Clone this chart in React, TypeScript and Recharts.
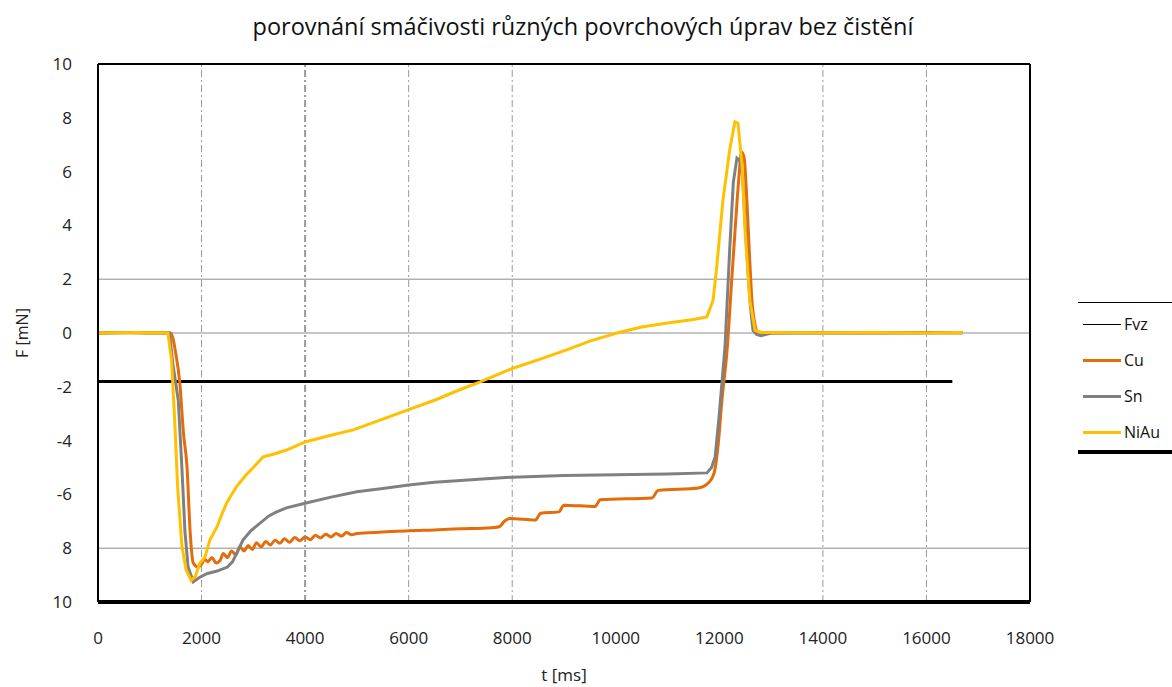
import React from "react";
import {
  LineChart,
  Line,
  XAxis,
  YAxis,
  ReferenceLine,
  Label,
} from "recharts";

type Pt = { t: number; v: number };

const toPts = (rows: number[][]): Pt[] => rows.map(([t, v]) => ({ t, v }));

const xTicks = [0, 2000, 4000, 6000, 8000, 10000, 12000, 14000, 16000, 18000];
const yTicks = [-10, -8, -6, -4, -2, 0, 2, 4, 6, 8, 10];
const gridY = [2, 0, -8];
const gridX = [2000, 4000, 6000, 8000, 14000, 16000];

const fvz = toPts([
  [0, -1.8],
  [16500, -1.8],
]);

const cu = toPts([
  [0, 0], [600, 0.02], [1000, 0], [1400, 0], [1460, -0.3], [1490, -0.63],
  [1580, -1.86], [1650, -3.7], [1720, -5.0], [1780, -7.4], [1840, -8.55],
  [1930, -8.7], [2000, -8.6], [2060, -8.4], [2120, -8.5], [2200, -8.35],
  [2280, -8.55], [2360, -8.45], [2420, -8.2], [2500, -8.35], [2580, -8.1],
  [2660, -8.25], [2740, -7.95], [2820, -8.1], [2900, -7.9], [2980, -8.05],
  [3060, -7.8], [3150, -7.95], [3240, -7.75], [3330, -7.88], [3420, -7.7],
  [3510, -7.82], [3600, -7.65], [3700, -7.78], [3800, -7.6], [3900, -7.72],
  [4000, -7.58], [4100, -7.68], [4200, -7.52], [4300, -7.62], [4400, -7.48],
  [4500, -7.58], [4600, -7.45], [4700, -7.55], [4800, -7.42], [4900, -7.5],
  [5000, -7.45], [5500, -7.4], [6000, -7.35], [6500, -7.32], [7000, -7.28],
  [7500, -7.25], [7750, -7.2], [7850, -7.0], [7950, -6.9], [8450, -6.95],
  [8550, -6.7], [8900, -6.65], [9000, -6.4], [9600, -6.45], [9700, -6.2],
  [10700, -6.13], [10820, -5.85], [11600, -5.76], [11800, -5.55],
  [11900, -5.2], [11980, -4.1], [12050, -2.5], [12150, -0.63], [12240, 2.0],
  [12300, 3.7], [12370, 5.6], [12430, 6.73], [12480, 6.5], [12530, 5.0],
  [12580, 3.0], [12630, 1.2], [12690, 0.3], [12730, 0.05], [13000, 0],
  [14000, 0.01], [15000, 0], [16000, 0.02], [16700, 0],
]);

const sn = toPts([
  [0, 0], [800, 0.02], [1380, 0], [1450, -1.2], [1550, -2.5], [1620, -5.0],
  [1680, -7.4], [1740, -8.7], [1840, -9.25], [1950, -9.1], [2100, -8.95],
  [2300, -8.85], [2500, -8.7], [2600, -8.5], [2700, -8.1], [2800, -7.7],
  [2950, -7.35], [3130, -7.07], [3300, -6.8], [3450, -6.65], [3640, -6.5],
  [4000, -6.33], [4500, -6.1], [5000, -5.9], [5500, -5.78], [6000, -5.65],
  [6500, -5.55], [7000, -5.48], [7500, -5.42], [8000, -5.36], [9000, -5.3],
  [10000, -5.27], [11000, -5.24], [11760, -5.2], [11850, -5.0],
  [11920, -4.6], [12000, -3.0], [12110, -0.5], [12200, 3.1], [12270, 5.6],
  [12340, 6.5], [12400, 6.4], [12450, 5.8], [12500, 4.0], [12550, 2.4],
  [12600, 1.0], [12650, 0.1], [12720, -0.05], [12800, -0.1], [13000, 0],
  [14000, 0], [15000, 0.01], [16000, 0], [16700, 0.02],
]);

const niau = toPts([
  [0, 0], [700, 0.02], [1350, 0], [1420, -1.0], [1480, -3.2], [1540, -5.8],
  [1620, -7.9], [1700, -8.8], [1800, -9.2], [1880, -9.05], [1970, -8.55],
  [2066, -8.33], [2160, -7.7], [2300, -7.2], [2400, -6.7], [2490, -6.3],
  [2600, -5.95], [2680, -5.7], [2850, -5.3], [3000, -5.0], [3190, -4.6],
  [3400, -4.5], [3640, -4.35], [4000, -4.05], [4500, -3.8], [4930, -3.6],
  [5500, -3.2], [6000, -2.85], [6500, -2.5], [7000, -2.1], [7380, -1.82],
  [8000, -1.32], [8500, -1.0], [9050, -0.63], [9500, -0.3], [10020, 0.0],
  [10500, 0.22], [11000, 0.37], [11500, 0.5], [11760, 0.6], [11880, 1.23],
  [11950, 2.46], [12070, 4.94], [12200, 6.8], [12300, 7.85], [12360, 7.8],
  [12440, 6.2], [12500, 3.7], [12590, 1.2], [12690, 0.1], [12800, 0.02],
  [14000, 0.01], [15000, 0.02], [16000, 0], [16700, 0.02],
]);

const series = [
  { name: "Fvz", data: fvz, color: "#000000", width: 3, legendWidth: 1 },
  { name: "Cu", data: cu, color: "#E46C0A", width: 3, legendWidth: 3 },
  { name: "Sn", data: sn, color: "#808080", width: 3, legendWidth: 3 },
  { name: "NiAu", data: niau, color: "#FFC000", width: 3, legendWidth: 3 },
];

const font = "'Open Sans', sans-serif";

// legend drawn as plain html next to the plot
const LegendBox = () => (
  <div
    style={{
      position: "absolute",
      left: 1078,
      top: 302,
      width: 94,
      borderTop: "1px solid #000",
      borderBottom: "4px solid #000",
      padding: "3px 0 0 0",
      fontFamily: font,
      fontSize: 16,
      color: "#111",
    }}
  >
    {series.map((s) => (
      <div
        key={s.name}
        style={{ display: "flex", alignItems: "center", height: 36 }}
      >
        <span
          style={{
            display: "inline-block",
            width: 38,
            height: s.legendWidth,
            marginLeft: 5,
            marginRight: 3,
            backgroundColor: s.color,
          }}
        />
        <span>{s.name}</span>
      </div>
    ))}
  </div>
);

const App: React.FC = () => {
  return (
    <div
      style={{
        position: "absolute",
        left: 0,
        top: 0,
        width: 1172,
        height: 687,
        background: "#fff",
      }}
    >
      <div
        style={{
          position: "absolute",
          left: 0,
          top: 10,
          width: 1166,
          textAlign: "center",
          fontFamily: font,
          fontSize: 23.5,
          color: "#111",
        }}
      >
        porovnání smáčivosti různých povrchových úprav bez čistění
      </div>
      <div style={{ position: "absolute", left: 0, top: 0 }}>
        <LineChart
          width={1172}
          height={687}
          margin={{ top: 64, right: 142, left: 38, bottom: 0 }}
        >
          <XAxis
            type="number"
            dataKey="t"
            domain={[0, 18000]}
            ticks={xTicks}
            interval={0}
            allowDataOverflow
            axisLine={{ stroke: "#000", strokeWidth: 4 }}
            tickLine={false}
            tick={{ fill: "#222", fontSize: 17, fontFamily: font }}
            tickMargin={24}
            height={85}
          >
            <Label
              value="t [ms]"
              position="insideBottom"
              offset={6}
              style={{ fill: "#222", fontSize: 17, fontFamily: font }}
            />
          </XAxis>
          <YAxis
            type="number"
            dataKey="v"
            domain={[-10, 10]}
            ticks={yTicks}
            interval={0}
            allowDataOverflow
            axisLine={{ stroke: "#000", strokeWidth: 2 }}
            tickLine={false}
            tick={{ fill: "#222", fontSize: 17, fontFamily: font }}
            tickFormatter={(v: number) => (v <= -8 ? String(-v) : String(v))}
            tickMargin={20}
            width={60}
          >
            <Label
              value="F [mN]"
              angle={-90}
              position="insideLeft"
              offset={-16}
              style={{ fill: "#222", fontSize: 16, fontFamily: font, textAnchor: "middle" }}
            />
          </YAxis>
          {gridY.map((y) => (
            <ReferenceLine key={"y" + y} y={y} stroke="#8c8c8c" strokeWidth={1} />
          ))}
          {gridX.map((x) => (
            <ReferenceLine
              key={"x" + x}
              x={x}
              stroke="#999"
              strokeWidth={x === 4000 ? 2 : 1}
              strokeDasharray="7 3 2 3"
            />
          ))}
          <ReferenceLine y={10} stroke="#000" strokeWidth={2} />
          <ReferenceLine x={18000} stroke="#000" strokeWidth={2} />
          {series.map((s) => (
            <Line
              key={s.name}
              data={s.data}
              dataKey="v"
              name={s.name}
              type={s.name === "Cu" ? "monotone" : "linear"}
              stroke={s.color}
              strokeWidth={s.width}
              dot={false}
              activeDot={false}
              isAnimationActive={false}
            />
          ))}
        </LineChart>
      </div>
      <LegendBox />
    </div>
  );
};

export default App;
